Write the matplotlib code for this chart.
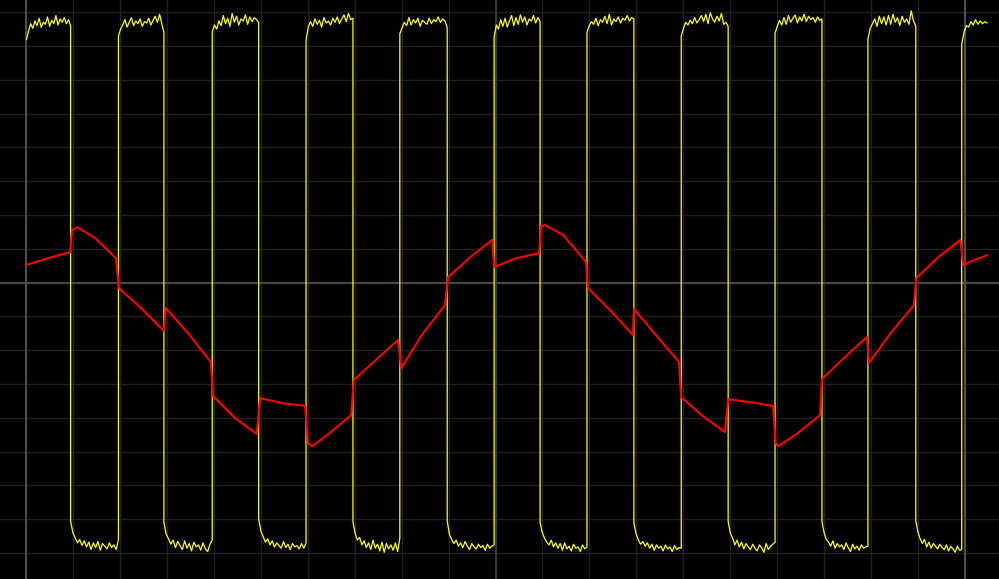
import numpy as np
import matplotlib
matplotlib.use("Agg")
import matplotlib.pyplot as plt

# time axis in divisions, voltage in divisions (scope screen)
rise_t = [0.0, 1.96, 3.96, 5.96, 7.96, 9.97, 11.95, 13.96, 15.96, 17.94, 19.94]
fall_t = [0.94, 2.93, 4.95, 6.96, 8.97, 10.95, 12.95, 14.96, 16.96, 18.96]
end_t = 20.48

high = [
    [7.20, 7.45, 7.66, 7.52, 7.74, 7.60, 7.82, 7.55, 7.70, 7.64, 7.86, 7.58, 7.76, 7.66, 7.90, 7.62, 7.80, 7.70, 7.84, 7.66, 7.78, 7.60],
    [7.30, 7.50, 7.62, 7.78, 7.56, 7.70, 7.84, 7.60, 7.74, 7.66, 7.80, 7.58, 7.72, 7.68, 7.82, 7.62, 7.76, 7.88, 7.70, 7.94, 7.66, 7.40],
    [7.42, 7.62, 7.50, 7.74, 7.60, 7.90, 7.66, 7.82, 7.58, 7.96, 7.70, 7.88, 7.62, 7.80, 7.74, 7.92, 7.64, 7.86, 7.72, 7.84, 7.78, 7.70],
    [7.18, 7.56, 7.72, 7.58, 7.80, 7.64, 7.76, 7.56, 7.84, 7.68, 7.74, 7.62, 7.82, 7.70, 7.86, 7.66, 7.80, 7.92, 7.72, 7.96, 7.78, 7.82],
    [7.36, 7.54, 7.70, 7.60, 7.84, 7.62, 7.78, 7.68, 7.82, 7.58, 7.76, 7.70, 7.64, 7.82, 7.66, 7.78, 7.72, 7.86, 7.70, 7.80, 7.74, 7.55],
    [7.26, 7.62, 7.50, 7.78, 7.58, 7.82, 7.56, 7.74, 7.90, 7.60, 7.84, 7.64, 7.92, 7.70, 7.86, 7.62, 7.80, 7.74, 7.90, 7.68, 7.84, 7.72],
    [7.40, 7.60, 7.72, 7.64, 7.82, 7.60, 7.78, 7.70, 7.88, 7.66, 7.94, 7.62, 7.80, 7.72, 7.86, 7.68, 7.82, 7.76, 7.90, 7.74, 7.84, 7.80],
    [7.30, 7.52, 7.70, 7.62, 7.76, 7.66, 7.84, 7.68, 7.78, 7.90, 7.72, 7.94, 7.66, 7.98, 7.80, 7.70, 7.88, 7.74, 7.96, 7.64, 7.70, 7.58],
    [7.38, 7.58, 7.76, 7.62, 7.84, 7.64, 7.90, 7.70, 7.82, 7.92, 7.68, 7.86, 7.74, 7.94, 7.72, 7.88, 7.78, 7.84, 7.70, 7.86, 7.76, 7.80],
    [7.20, 7.52, 7.66, 7.80, 7.58, 7.88, 7.66, 7.86, 7.62, 7.90, 7.64, 7.94, 7.70, 7.84, 7.60, 7.88, 7.70, 7.80, 7.64, 8.04, 7.74, 7.60],
    [7.05, 7.40, 7.60, 7.56, 7.72, 7.62, 7.78, 7.64, 7.74, 7.66, 7.72, 7.68],
]
low = [
    [-7.05, -7.40, -7.55, -7.70, -7.60, -7.78, -7.64, -7.82, -7.68, -7.90, -7.70, -7.84, -7.66, -7.92, -7.72, -7.80, -7.88, -7.70, -7.84, -7.76, -7.90, -7.60],
    [-7.10, -7.45, -7.58, -7.74, -7.62, -7.84, -7.66, -7.78, -7.90, -7.64, -7.86, -7.72, -7.94, -7.68, -7.82, -7.76, -7.92, -7.70, -7.88, -7.96, -7.74, -7.62],
    [-7.00, -7.36, -7.52, -7.68, -7.58, -7.76, -7.64, -7.82, -7.70, -7.78, -7.86, -7.66, -7.84, -7.74, -7.90, -7.72, -7.82, -7.78, -7.88, -7.72, -7.86, -7.70],
    [-7.08, -7.42, -7.62, -7.54, -7.76, -7.64, -7.84, -7.70, -7.90, -7.62, -7.86, -7.74, -7.94, -7.68, -7.98, -7.72, -7.88, -7.76, -7.92, -7.70, -7.96, -7.56],
    [-7.05, -7.46, -7.60, -7.72, -7.62, -7.80, -7.70, -7.84, -7.66, -7.80, -7.90, -7.72, -7.82, -7.88, -7.74, -7.84, -7.78, -7.92, -7.74, -7.86, -7.80, -7.76],
    [-7.10, -7.40, -7.56, -7.68, -7.76, -7.62, -7.82, -7.70, -7.86, -7.72, -7.92, -7.70, -7.88, -7.80, -7.94, -7.74, -7.86, -7.82, -7.96, -7.76, -7.88, -7.82],
    [-7.12, -7.44, -7.62, -7.74, -7.66, -7.80, -7.70, -7.86, -7.74, -7.92, -7.76, -7.86, -7.80, -7.94, -7.76, -7.88, -7.82, -7.96, -7.78, -7.90, -7.84, -7.86],
    [-7.06, -7.42, -7.56, -7.76, -7.62, -7.82, -7.68, -7.88, -7.72, -7.82, -7.90, -7.74, -7.86, -7.94, -7.76, -7.84, -7.98, -7.72, -7.90, -7.80, -7.74, -7.68],
    [-7.08, -7.40, -7.60, -7.68, -7.80, -7.64, -7.86, -7.72, -7.82, -7.76, -7.90, -7.70, -7.84, -7.96, -7.74, -7.88, -7.80, -7.92, -7.76, -7.86, -7.82, -7.80],
    [-7.04, -7.38, -7.58, -7.72, -7.60, -7.82, -7.68, -7.86, -7.72, -7.80, -7.88, -7.74, -7.84, -7.90, -7.76, -7.94, -7.80, -7.88, -7.98, -7.80, -7.92, -7.90],
]

# red channel: breakpoints (time, value) along the stepped wave
red_t = [-0.01, 0.46, 0.93, 0.97, 1.08, 1.46, 1.91, 1.97, 2.44, 2.93, 2.97, 3.44, 3.93,
         3.98, 4.45, 4.91, 4.98, 5.47, 5.94, 6.00, 6.09, 6.47, 6.92, 6.98, 7.45, 7.92,
         7.99, 8.43, 8.92, 8.99, 9.46, 9.93,
         9.97, 10.44, 10.93, 10.97, 11.06, 11.44, 11.93, 11.97, 12.44, 12.93, 12.95, 13.42, 13.91,
         13.96, 14.42, 14.89, 14.96, 15.43, 15.92, 15.97, 16.03, 16.45, 16.92, 16.96, 17.43, 17.92,
         17.96, 18.43, 18.92, 18.97, 19.44, 19.91, 19.97, 20.22, 20.48]
red_v = [0.52, 0.72, 0.90, 1.55, 1.64, 1.32, 0.72, -0.16, -0.75, -1.43, -0.75, -1.49, -2.35,
         -3.36, -4.01, -4.48, -3.42, -3.57, -3.65, -4.75, -4.84, -4.45, -3.92, -2.88, -2.29, -1.70,
         -2.53, -1.55, -0.67, 0.16, 0.75, 1.26,
         0.46, 0.72, 0.87, 1.67, 1.70, 1.41, 0.61, -0.16, -0.81, -1.55, -0.78, -1.55, -2.35,
         -3.39, -3.95, -4.42, -3.45, -3.54, -3.65, -4.75, -4.84, -4.45, -3.92, -2.86, -2.23, -1.61,
         -2.38, -1.49, -0.67, 0.13, 0.75, 1.26, 0.52, 0.67, 0.81]

# assemble yellow trace: high plateau, edge, low plateau, edge...
yt, yv = [], []
for i in range(len(high)):
    t0 = rise_t[i]
    t1 = fall_t[i] if i < len(fall_t) else end_t
    yt += list(np.linspace(t0, t1, len(high[i])))
    yv += high[i]
    if i < len(low):
        yt += list(np.linspace(fall_t[i], rise_t[i + 1], len(low[i])))
        yv += low[i]

fig = plt.figure(figsize=(9.99, 5.79), dpi=100)
fig.patch.set_facecolor("black")
ax = fig.add_axes([0, 0, 1, 1])
ax.set_facecolor("black")
ax.set_xlim(-0.565, 20.735)
ax.set_ylim(-8.77, 8.36)
ax.set_xticks(range(0, 21))
ax.set_yticks(range(-8, 9))
ax.tick_params(length=0, labelbottom=False, labelleft=False)
ax.grid(color="#202020", lw=1.0)
for s in ax.spines.values():
    s.set_visible(False)

# brighter reference lines
ax.axhline(0, color="#454545", lw=1.6)
ax.axvline(0, color="#555555", lw=1.3)
ax.axvline(10, color="#3c3c3c", lw=1.3)
ax.axvline(20, color="#555555", lw=1.3)

ax.plot(yt, yv, color="#ffff00", lw=0.9)
ax.plot(red_t, red_v, color="#ff0000", lw=1.5)

fig.savefig("out.png", dpi=100, facecolor="black")
